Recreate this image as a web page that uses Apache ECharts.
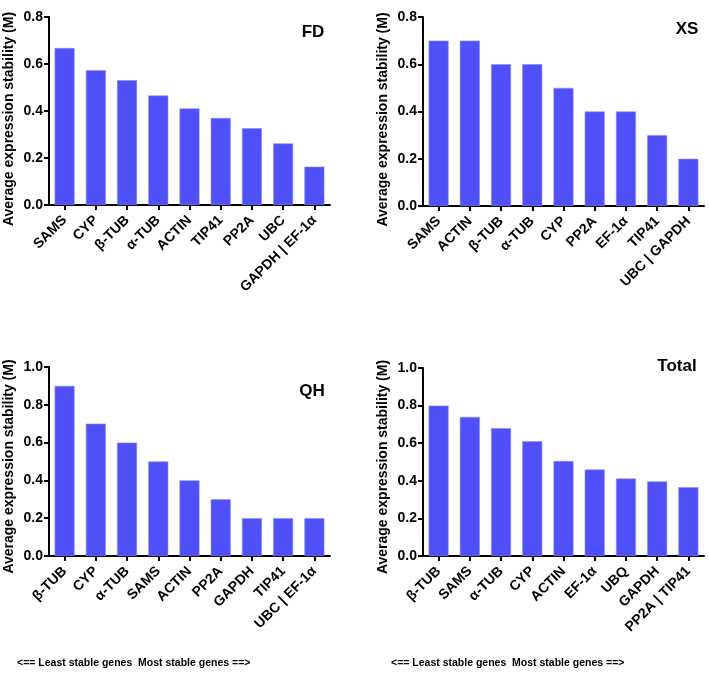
<!DOCTYPE html>
<html>
<head>
<meta charset="utf-8">
<script src="https://cdn.jsdelivr.net/npm/echarts@6/dist/echarts.min.js"></script>
<style>html,body{margin:0;padding:0;background:#fff;}#c{width:709px;height:673px;}</style>
</head>
<body>
<div id="c"></div>
<script>
const fdCats = ['SAMS','CYP','β-TUB','α-TUB','ACTIN','TIP41','PP2A','UBC','GAPDH | EF-1α'];
const fdVals = [0.668,0.574,0.531,0.466,0.411,0.370,0.327,0.262,0.163];
const xsCats = ['SAMS','ACTIN','β-TUB','α-TUB','CYP','PP2A','EF-1α','TIP41','UBC | GAPDH'];
const xsVals = [0.7,0.7,0.6,0.6,0.5,0.4,0.4,0.3,0.2];
const qhCats = ['β-TUB','CYP','α-TUB','SAMS','ACTIN','PP2A','GAPDH','TIP41','UBC | EF-1α'];
const qhVals = [0.9,0.7,0.6,0.5,0.4,0.3,0.2,0.2,0.2];
const totCats = ['β-TUB','SAMS','α-TUB','CYP','ACTIN','EF-1α','UBQ','GAPDH','PP2A | TIP41'];
const totVals = [0.80,0.74,0.68,0.61,0.505,0.46,0.412,0.397,0.366];
const panelTitles = ['FD','XS','QH','Total'];
const yMax = [0.8,0.8,1.0,1.0];
const yName = 'Average expression stability (M)';
const footer = '<== Least stable genes  Most stable genes ==>';

const FONT = '"Liberation Sans", Arial, sans-serif';
const BAR = '#5050f8';
const grids = [
  {left:49, right:379, top:17, bottom:468},
  {left:423, right:5, top:17, bottom:467},
  {left:49, right:379, top:367, bottom:117},
  {left:423, right:5, top:368, bottom:117}
];
const cats = [fdCats, xsCats, qhCats, totCats];
const vals = [fdVals, xsVals, qhVals, totVals];
const titlePos = [[313,32],[687,29],[312,391],[677,366]];
const namePad = [16,16,10,10];

const axisLine = {show:true, lineStyle:{color:'#000', width:2}};
const option = {
  animation:false,
  backgroundColor:'#fff',
  grid: grids.map(g => Object.assign({containLabel:false}, g)),
  xAxis: cats.map((c,i) => ({
    type:'category', gridIndex:i, data:c,
    axisLine: axisLine,
    axisTick:{show:true, alignWithLabel:true, length:5, lineStyle:{color:'#000', width:2}},
    axisLabel:{rotate:45, interval:0, margin:13, color:'#000', fontWeight:'bold', fontSize:14, fontFamily:FONT},
    splitLine:{show:false}
  })),
  yAxis: yMax.map((m,i) => ({
    type:'value', gridIndex:i, min:0, max:m, interval:0.2,
    name:yName, nameLocation:'middle', nameGap:33,
    nameTextStyle:{color:'#000', fontWeight:'bold', fontSize:14, fontFamily:FONT, padding:[0,namePad[i],0,0]},
    axisLine: axisLine,
    axisTick:{show:true, length:5, lineStyle:{color:'#000', width:2}},
    axisLabel:{margin:6, color:'#000', fontWeight:'bold', fontSize:14, fontFamily:FONT, formatter: v => v.toFixed(1)},
    splitLine:{show:false}
  })),
  series: vals.map((v,i) => ({
    type:'bar', xAxisIndex:i, yAxisIndex:i, data:v, barWidth:'64%',
    itemStyle:{color:BAR, borderColor:'#8a8af6', borderWidth:0.6}
  })),
  graphic: panelTitles.map((t,i) => ({
    type:'text', x:titlePos[i][0], y:titlePos[i][1],
    style:{text:t, fill:'#000', font:'bold 17px ' + FONT, align:'center', verticalAlign:'middle'}
  })).concat([17,391].map(x => ({
    type:'text', x:x, y:663,
    style:{text:footer, fill:'#000', font:'bold 10.5px ' + FONT, align:'left', verticalAlign:'middle'}
  })))
};
const chart = echarts.init(document.getElementById('c'));
chart.setOption(option);
</script>
</body>
</html>
